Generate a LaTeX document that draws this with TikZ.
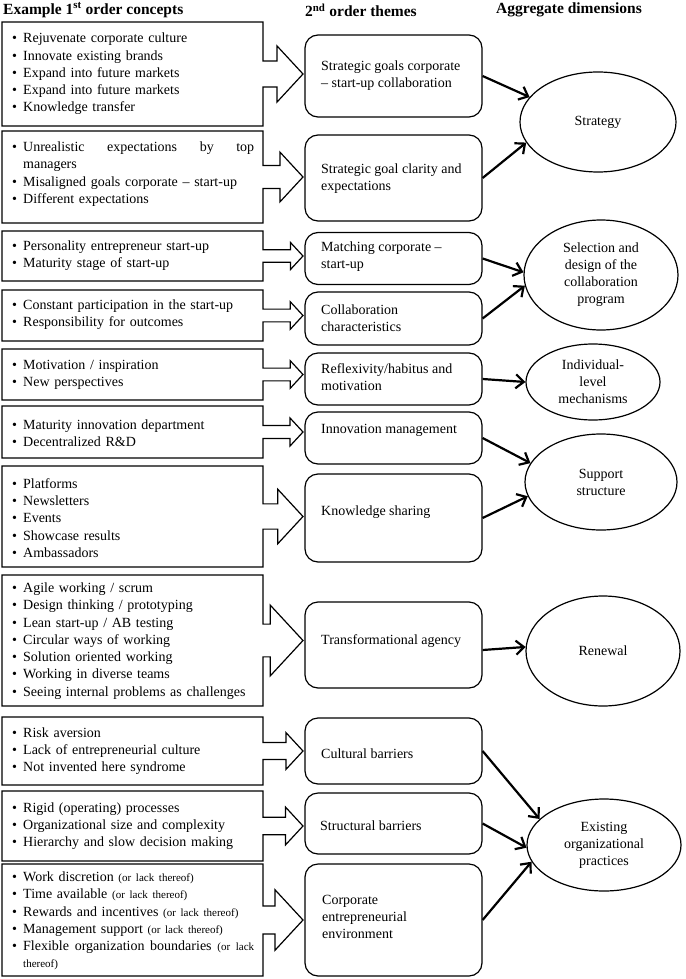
\documentclass[tikz,border=0pt]{standalone}
\usepackage{fontspec}
\setmainfont{Liberation Serif}
\usetikzlibrary{shapes.geometric,arrows.meta,calc}
\newcommand{\lbul}{\makebox[17pt][c]{\textbullet}}
\newcommand{\lind}{\hspace*{17pt}}
\newcommand{\olt}[1]{{\fontsize{11}{17.3}\selectfont #1}}
\newcommand{\calloutbox}[2]{%
  \pgfmathsetmacro\cH{#2-#1}%
  \pgfmathsetmacro\cC{(#1+#2)/2}%
  \pgfmathsetmacro\cS{0.125*\cH}%
  \pgfmathsetmacro\cA{0.27*\cH}%
  \pgfmathsetmacro\cX{303-0.25*\cH}%
  \draw[boxline] (2,#1) -- (263,#1) -- (263,\cC-\cS) -- (\cX,\cC-\cS) -- (\cX,\cC-\cA)
     -- (303,\cC) -- (\cX,\cC+\cA) -- (\cX,\cC+\cS) -- (263,\cC+\cS) -- (263,#2) -- (2,#2) -- cycle;
}
\tikzset{
  boxline/.style={draw=black, line width=1.2pt, line join=miter},
  ltext/.style={anchor=west, inner sep=0pt, text width=248pt, align=left,
    font=\fontsize{14}{17.3}\selectfont},
  mbox/.style={draw, line width=1.2pt, rounded corners=13pt, minimum width=177pt, inner sep=0pt},
  mtext/.style={anchor=west, inner sep=0pt, align=left, font=\fontsize{14}{17}\selectfont},
  agg/.style={ellipse, draw, line width=1.2pt, inner sep=0pt, align=center,
    font=\fontsize{14}{17}\selectfont},
  conn/.style={line width=2.2pt, -{Straight Barb[length=8pt,width=14pt]}},
  hdr/.style={anchor=west, inner sep=0pt, font=\fontsize{15.5}{18}\selectfont\bfseries},
}
\begin{document}
\begin{tikzpicture}[x=1pt,y=-1pt]
\useasboundingbox (0,0) rectangle (685,979);

% headers
\node[hdr] (h1) at (3,10) {Example 1\textsuperscript{st} order concepts};
\node[hdr] (h2) at (305,10) {2\textsuperscript{nd} order themes};
\node[hdr] (h3) at (496,10) {Aggregate dimensions};

% left callout boxes
\calloutbox{22}{126}
\calloutbox{131}{223}
\calloutbox{231}{281}
\calloutbox{290}{341}
\calloutbox{349}{400}
\calloutbox{406}{458}
\calloutbox{466}{567}
\calloutbox{575}{706}
\calloutbox{717}{785}
\calloutbox{791}{861}
\calloutbox{864}{976}

\node[ltext] (l1) at (6,74) {\lbul Rejuvenate corporate culture\\\lbul Innovate existing brands\\\lbul Expand into future markets\\\lbul Expand into future markets\\\lbul Knowledge transfer};
\node[ltext] (l2) at (6,174) {\lbul Unrealistic\hfill expectations\hfill by\hfill top\\\lind managers\\\lbul Misaligned goals corporate \textendash{} start-up\\\lbul Different expectations};
\node[ltext] (l3) at (6,256) {\lbul Personality entrepreneur start-up\\\lbul Maturity stage of start-up};
\node[ltext] (l4) at (6,315) {\lbul Constant participation in the start-up\\\lbul Responsibility for outcomes};
\node[ltext] (l5) at (6,375) {\lbul Motivation / inspiration\\\lbul New perspectives};
\node[ltext] (l6) at (6,433) {\lbul Maturity innovation department\\\lbul Decentralized R\&D};
\node[ltext] (l7) at (6,518) {\lbul Platforms\\\lbul Newsletters\\\lbul Events\\\lbul Showcase results\\\lbul Ambassadors};
\node[ltext] (l8) at (6,641) {\lbul Agile working / scrum\\\lbul Design thinking / prototyping\\\lbul Lean start-up / AB testing\\\lbul Circular ways of working\\\lbul Solution oriented working\\\lbul Working in diverse teams\\\lbul Seeing internal problems as challenges};
\node[ltext] (l9) at (6,751) {\lbul Risk aversion\\\lbul Lack of entrepreneurial culture\\\lbul Not invented here syndrome};
\node[ltext] (l10) at (6,826) {\lbul Rigid (operating) processes\\\lbul Organizational size and complexity\\\lbul Hierarchy and slow decision making};
\node[ltext] (l11) at (6,921) {\lbul Work discretion \olt{(or lack thereof)}\\\lbul Time available \olt{(or lack thereof)}\\\lbul Rewards and incentives \olt{(or lack thereof)}\\\lbul Management support \olt{(or lack thereof)}\\\lbul Flexible\hfill organization\hfill boundaries\hfill \olt{(or\hfill lack}\\\lind\olt{thereof)}};

% middle themes
\node[mbox, minimum height=82pt] (m1) at (393.5,76) {};
\node[mbox, minimum height=86pt] (m2) at (393.5,178) {};
\node[mbox, minimum height=52pt] (m3) at (393.5,258.5) {};
\node[mbox, minimum height=53pt] (m4) at (393.5,318.5) {};
\node[mbox, minimum height=52pt] (m5) at (393.5,379) {};
\node[mbox, minimum height=52pt] (m6) at (393.5,438) {};
\node[mbox, minimum height=88pt] (m7) at (393.5,518) {};
\node[mbox, minimum height=86pt] (m8) at (393.5,645) {};
\node[mbox, minimum height=66pt] (m9) at (393.5,751) {};
\node[mbox, minimum height=61pt] (m10) at (393.5,823.5) {};
\node[mbox, minimum height=112pt] (m11) at (393.5,920) {};

\node[mtext] (t1) at (321,76) {Strategic goals corporate\\\textendash{} start-up collaboration};
\node[mtext] (t2) at (321,179) {Strategic goal clarity and\\expectations};
\node[mtext] (t3) at (321,257) {Matching corporate \textendash\\start-up};
\node[mtext] (t4) at (321,318) {Collaboration\\characteristics};
\node[mtext] (t5) at (321,377) {Reflexivity/habitus and\\motivation};
\node[mtext] (t6) at (321,430) {Innovation management};
\node[mtext] (t7) at (321,512) {Knowledge sharing};
\node[mtext] (t8) at (321,641) {Transformational agency};
\node[mtext] (t9) at (321,754) {Cultural barriers};
\node[mtext] (t10) at (320,826) {Structural barriers};
\node[mtext] (t11) at (322,917) {Corporate\\entrepreneurial\\environment};

% aggregate dimensions
\node[agg, minimum width=156pt, minimum height=100pt] (e1) at (598,122) {Strategy};
\node[agg, minimum width=154pt, minimum height=110pt] (e2) at (601,275) {Selection and\\design of the\\collaboration\\program};
\node[agg, minimum width=134pt, minimum height=76pt] (e3) at (593,382) {Individual-\\level\\mechanisms};
\node[agg, minimum width=152pt, minimum height=96pt] (e4) at (601,482) {Support\\structure};
\node[agg, minimum width=154pt, minimum height=110pt] (e5) at (603,651) {Renewal};
\node[agg, minimum width=154pt, minimum height=92pt] (e6) at (604,845) {Existing\\organizational\\practices};

% connectors
\draw[conn] (m1.east) -- (e1.160);
\draw[conn] (m2.east) -- (e1.196);
\draw[conn] (m3.east) -- (e2.178);
\draw[conn] (m4.east) -- (e2.188);
\draw[conn] (m5.east) -- (e3.180);
\draw[conn] (m6.east) -- (e4.165);
\draw[conn] (m7.east) -- (e4.191);
\draw[conn] ([yshift=-5pt]m8.east) -- (e5.177);
\draw[conn] (m9.east) -- (e6.158);
\draw[conn] (m10.east) -- (e6.182);
\draw[conn] (m11.east) -- (e6.193);
\end{tikzpicture}
\end{document}
